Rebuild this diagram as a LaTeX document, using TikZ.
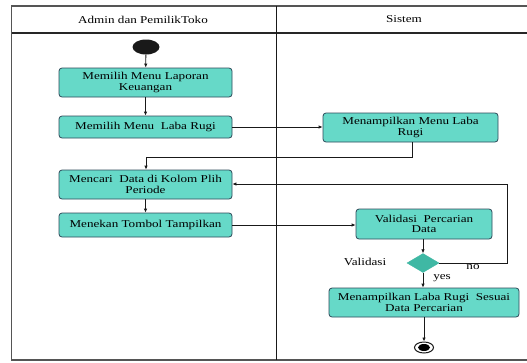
\documentclass[tikz,border=0pt]{standalone}
\usepackage{fontspec}
\setmainfont{Liberation Serif}[FakeStretch=1.25]
\usetikzlibrary{shapes.geometric,arrows.meta}
\definecolor{boxfill}{HTML}{66D9C8}
\definecolor{boxdraw}{HTML}{2E4A5A}
\definecolor{diafill}{HTML}{3FB8A4}
\definecolor{framec}{HTML}{555555}
\tikzset{
  act/.style={draw=boxdraw, fill=boxfill, rounded corners=3pt, line width=0.8pt,
    align=center, inner sep=1pt, font=\fontsize{10.5}{10.5}\selectfont, text=black},
  flow/.style={draw=black!90, line width=0.8pt, -{Latex[length=4pt,width=3.5pt]}},
  lbl/.style={font=\fontsize{10.5}{10.5}\selectfont, text=black, inner sep=0pt},
  dec/.style={diamond, fill=diafill, draw=diafill, inner sep=0pt, minimum width=32pt, minimum height=19pt}
}
\begin{document}
\begin{tikzpicture}[x=1pt,y=-1pt]
\useasboundingbox (0,0) rectangle (527,362);
\fill[white] (0,0) rectangle (527,362);
% frame
\draw[framec, line width=1.5pt] (11,6) -- (527,6);
\draw[black!85, line width=1.2pt] (11,33) -- (527,33);
\draw[framec, line width=1pt] (11,6) -- (11,360);
\draw[framec, line width=1.2pt] (11,360) -- (527,360);
\draw[black!90, line width=1pt] (276,6) -- (276,360);
\node[lbl] (h1) at (143,20) {Admin dan PemilikToko};
\node[lbl] (h2) at (404,19) {Sistem};
% start
\node[ellipse, fill=black!90, minimum width=27pt, minimum height=15pt, inner sep=0pt] (start) at (146,47) {};
\node[act, minimum width=173pt, minimum height=29pt] (a1) at (145.5,82.5) {Memilih Menu Laporan\\Keuangan};
\node[act, minimum width=173pt, minimum height=22pt] (a2) at (145.5,127) {Memilih Menu\ \ Laba Rugi};
\node[act, minimum width=173pt, minimum height=29pt] (a3) at (145.5,184.5) {Mencari\ \ Data di Kolom Plih\\Periode};
\node[act, minimum width=173pt, minimum height=24pt] (a4) at (145.5,225) {Menekan Tombol Tampilkan};
\node[act, minimum width=175pt, minimum height=29pt] (s1) at (410.5,127.5) {Menampilkan Menu Laba\\Rugi};
\node[act, minimum width=136pt, minimum height=30pt] (s2) at (424,224) {Validasi\ \ Percarian\\Data};
\node[dec] (d) at (423,263) {};
\node[act, minimum width=190pt, minimum height=29pt] (s3) at (424,302.5) {Menampilkan Laba Rugi\ \ Sesuai\\Data Percarian};
\node[ellipse, draw=black!90, line width=1pt, fill=white, minimum width=19pt, minimum height=11pt, inner sep=0pt] (end) at (424,347.5) {};
\node[ellipse, fill=black, minimum width=12pt, minimum height=7pt, inner sep=0pt] (endin) at (424,347.5) {};
% labels
\node[lbl] (lv) at (365,262) {Validasi};
\node[lbl] (lno) at (473,267) {no};
\node[lbl] (lyes) at (442,278) {yes};
% connectors
\coordinate (c1) at (412,157);
\coordinate (c2) at (146,157);
\coordinate (c3) at (507,263);
\coordinate (c4) at (507,184);
\draw[flow] (start) -- (a1);
\draw[flow] (a1) -- (a2);
\draw[flow] (a2.east) -- (a2.east -| s1.west);
\draw[flow] (s1.south -| c1) -- (c1) -- (c2) -- (a3.north -| c2);
\draw[flow] (a3) -- (a4);
\draw[flow] (a4.east) -- (a4.east -| s2.west);
\draw[flow] (s2.south -| d) -- (d.north);
\draw[flow] (d.east) -- (c3) -- (c4) -- (a3.east |- c4);
\draw[flow] (d.south) -- (s3.north -| d);
\draw[flow] (s3.south -| end) -- (end.north);
\end{tikzpicture}
\end{document}
